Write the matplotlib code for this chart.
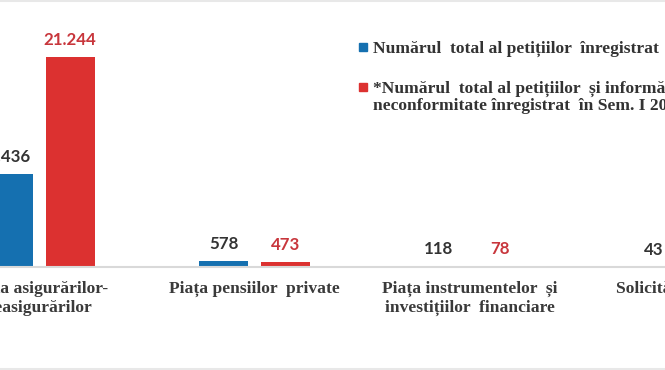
import matplotlib
matplotlib.use("Agg")
import matplotlib.pyplot as plt
from matplotlib.patches import Rectangle

categories = ["Piața asigurărilor-\nreasigurărilor",
              "Piața pensiilor  private",
              "Piața instrumentelor  și\ninvestițiilor  financiare",
              "Solicitări generale"]
sem1_current = [9436, 578, 118, 43]
sem1_previous = [21244, 473, 78, 0]
labels_current = ["9.436", "578", "118", "43"]
labels_previous = ["21.244", "473", "78", ""]
legend_labels = ["Numărul  total al petițiilor  înregistrat  în Sem. I 2021",
                 "*Numărul  total al petițiilor  și informărilor privind\n"
                 "neconformitate înregistrat  în Sem. I 2020"]

BLUE = "#1570b0"
RED = "#dc3130"
serif_bold = dict(family="Liberation Serif", weight="bold")

W, H = 665, 370
fig = plt.figure(figsize=(W / 100, H / 100), dpi=100)
# axes start at the baseline of the bars
ax = fig.add_axes([0, 103 / H, 1, 267 / H])

x = list(range(len(categories)))
off = 0.143
bw = 0.228
xb = [i - off for i in x]
xr = [i + off for i in x]
ax.bar(xb, sem1_current, width=bw, color=BLUE, zorder=2)
ax.bar(xr, sem1_previous, width=bw, color=RED, zorder=2)

for xi, v, t in zip(xb, sem1_current, labels_current):
    ax.annotate(t, (xi, v), xytext=(0, 8.6), textcoords="offset points",
                ha="center", va="baseline", fontsize=12.2, family="Lato",
                weight="bold", color="#333333", annotation_clip=False)
for xi, v, t in zip(xr, sem1_previous, labels_previous):
    ax.annotate(t, (xi, v), xytext=(0, 8.6), textcoords="offset points",
                ha="center", va="baseline", fontsize=12.2, family="Lato",
                weight="bold", color="#c8363c", annotation_clip=False)

# category labels under the baseline
for xi, cat in zip(x, categories):
    ax.annotate(cat, (xi, 0), xytext=(0, -10), textcoords="offset points",
                ha="center", va="top", fontsize=12.6, color="#3a3a3a",
                linespacing=1.25, annotation_clip=False, **serif_bold)

ax.set_xticks([])
ax.set_yticks([])
ax.set_xlim(-39.5 / 215, (W - 39.5) / 215)
ax.set_ylim(0, 267 / 210 * 21244)
for s in ax.spines.values():
    s.set_visible(False)
ax.spines["bottom"].set_visible(True)
ax.spines["bottom"].set_color("#d9d9d9")
ax.spines["bottom"].set_linewidth(1.5)

# legend drawn by hand (squares + text)
for py, c, txt in [(47, BLUE, legend_labels[0]), (87, RED, legend_labels[1])]:
    fig.patches.append(Rectangle((359 / W, 1 - (py + 4) / H), 8 / W, 8 / H,
                                 transform=fig.transFigure, color=c))
    fig.text(373 / W, 1 - (py - 6.5) / H, txt, ha="left", va="top", fontsize=12.6,
             color="#333333", linespacing=1.08, **serif_bold)

fig.add_artist(plt.Line2D([0, 1], [0.998, 0.998], color="#e8e8e8", lw=1.5))
fig.add_artist(plt.Line2D([0, 1], [0.003, 0.003], color="#e8e8e8", lw=1.5))

fig.savefig("out.png", dpi=100)
